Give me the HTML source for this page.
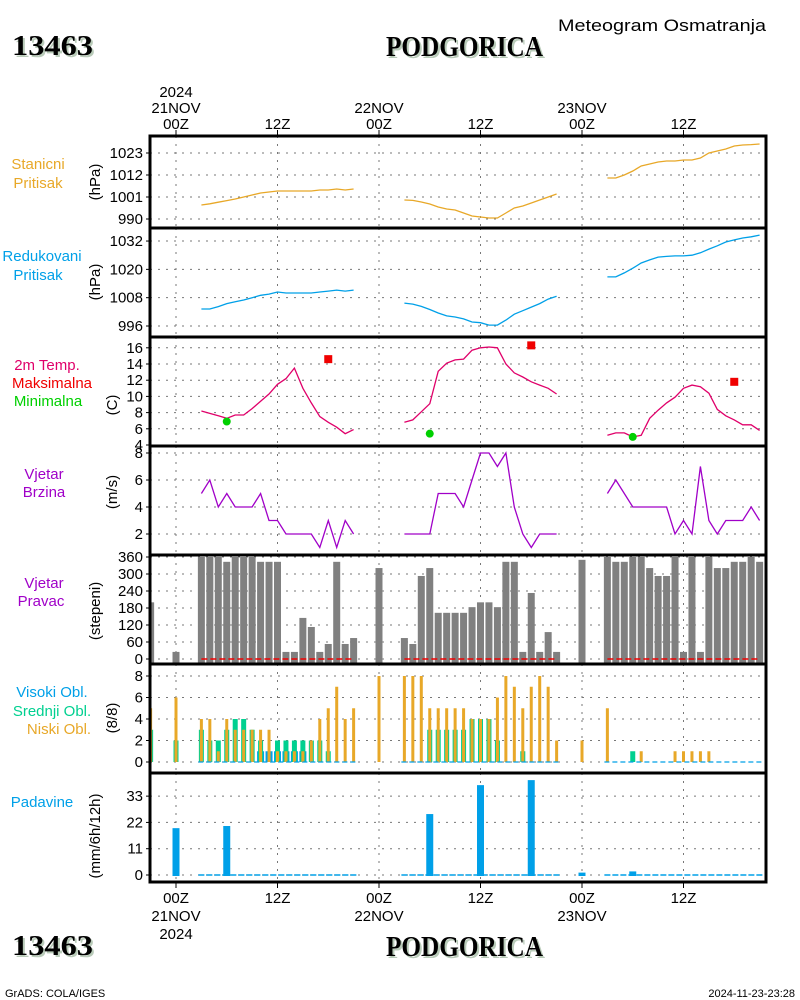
<!DOCTYPE html>
<html><head><meta charset="utf-8"><style>
body{margin:0;background:#fff;}
svg{display:block;font-family:"Liberation Sans",sans-serif;}
.t{font-size:15px;fill:#000;}
</style></head><body>
<svg id="chart" width="800" height="1000" viewBox="0 0 800 1000" xmlns="http://www.w3.org/2000/svg">
<rect x="0" y="0" width="800" height="1000" fill="#fff"/>
<g id="header">
<text x="14" y="57" font-family="Liberation Serif" font-weight="bold" font-size="28" fill="#b9cbb9" textLength="81" lengthAdjust="spacingAndGlyphs">13463</text>
<text x="12" y="55" font-family="Liberation Serif" font-weight="bold" font-size="28" fill="#000" textLength="81" lengthAdjust="spacingAndGlyphs">13463</text>
<text x="388" y="58" font-family="Liberation Serif" font-weight="bold" font-size="29" fill="#b9cbb9" textLength="157" lengthAdjust="spacingAndGlyphs">PODGORICA</text>
<text x="386" y="56" font-family="Liberation Serif" font-weight="bold" font-size="29" fill="#000" textLength="157" lengthAdjust="spacingAndGlyphs">PODGORICA</text>
<text x="558" y="31" font-size="17" fill="#000" textLength="208" lengthAdjust="spacingAndGlyphs">Meteogram Osmatranja</text>
</g>
<g id="footer">
<text x="14" y="957" font-family="Liberation Serif" font-weight="bold" font-size="28" fill="#b9cbb9" textLength="81" lengthAdjust="spacingAndGlyphs">13463</text>
<text x="12" y="955" font-family="Liberation Serif" font-weight="bold" font-size="28" fill="#000" textLength="81" lengthAdjust="spacingAndGlyphs">13463</text>
<text x="388" y="958" font-family="Liberation Serif" font-weight="bold" font-size="29" fill="#b9cbb9" textLength="157" lengthAdjust="spacingAndGlyphs">PODGORICA</text>
<text x="386" y="956" font-family="Liberation Serif" font-weight="bold" font-size="29" fill="#000" textLength="157" lengthAdjust="spacingAndGlyphs">PODGORICA</text>
<text x="5" y="997" font-size="11" fill="#000">GrADS: COLA/IGES</text>
<text x="795" y="997" font-size="11" fill="#000" text-anchor="end">2024-11-23-23:28</text>
</g>
<g id="labels" font-size="15">
<text x="38" y="169" text-anchor="middle" fill="#e8a828">Stanicni</text>
<text x="38" y="188" text-anchor="middle" fill="#e8a828">Pritisak</text>
<text x="42" y="261" text-anchor="middle" fill="#00a0e8">Redukovani</text>
<text x="38" y="280" text-anchor="middle" fill="#00a0e8">Pritisak</text>
<text x="47" y="370" text-anchor="middle" fill="#e0006a">2m Temp.</text>
<text x="52" y="388" text-anchor="middle" fill="#f00000">Maksimalna</text>
<text x="48" y="406" text-anchor="middle" fill="#00d000">Minimalna</text>
<text x="44" y="479" text-anchor="middle" fill="#a000c8">Vjetar</text>
<text x="44" y="497" text-anchor="middle" fill="#a000c8">Brzina</text>
<text x="44" y="588" text-anchor="middle" fill="#a000c8">Vjetar</text>
<text x="41" y="606" text-anchor="middle" fill="#a000c8">Pravac</text>
<text x="52" y="697" text-anchor="middle" fill="#00a0e8">Visoki Obl.</text>
<text x="52" y="716" text-anchor="middle" fill="#00d090">Srednji Obl.</text>
<text x="59" y="734" text-anchor="middle" fill="#e8a828">Niski Obl.</text>
<text x="42" y="807" text-anchor="middle" fill="#00a0e8">Padavine</text>
<text transform="translate(100,182) rotate(-90)" text-anchor="middle">(hPa)</text>
<text transform="translate(100,282) rotate(-90)" text-anchor="middle">(hPa)</text>
<text transform="translate(117,405) rotate(-90)" text-anchor="middle">(C)</text>
<text transform="translate(117,492) rotate(-90)" text-anchor="middle">(m/s)</text>
<text transform="translate(100,611) rotate(-90)" text-anchor="middle">(stepeni)</text>
<text transform="translate(117,718) rotate(-90)" text-anchor="middle">(8/8)</text>
<text transform="translate(100,836) rotate(-90)" text-anchor="middle">(mm/6h/12h)</text>
</g>
<g id="grid"></g>
<g id="marks"></g>
<g id="frames"></g>
<g id="ticks"></g>
</svg>
<script>
// ---- data ----
const seg1Hours=[3,4,5,6,7,8,9,10,11,12,13,14,15,16,17,18,19,20,21];
const seg2Hours=[27,28,29,30,31,32,33,34,35,36,37,38,39,40,41,42,43,44,45];
const seg3Hours=[51,52,53,54,55,56,57,58,59,60,61,62,63,64,65,66,67,68,69];
const stnP1=[997,997.6,998.4,999.2,1000,1001,1002,1003,1003.5,1004,1004,1004,1004,1004,1004.5,1004.5,1005,1004.5,1005];
const stnP2=[999.5,999.3,998.5,997.5,996,995,994.5,993,991.5,991,990.5,990.5,993,995.5,996.5,998,999.5,1001,1002.5];
const stnP3=[1010.5,1010.5,1012,1014,1016.5,1017.5,1018.5,1019,1019,1019.5,1019.5,1020.5,1023,1024,1025,1026.5,1027,1027.2,1027.5];
const redP1=[1003.2,1003.2,1004.2,1005.5,1006.3,1007,1008,1009,1009.5,1010.4,1010,1010,1010,1010,1010.4,1010.8,1011.2,1010.8,1011.2];
const redP2=[1005.7,1005.3,1004.3,1003,1001.5,1000.3,999.8,999,997.7,997.4,996.4,996.4,998.5,1001,1002.5,1004,1005.5,1007.4,1008.6];
const redP3=[1016.8,1016.8,1018.5,1020.5,1022.7,1024,1025.2,1025.5,1025.7,1025.7,1026,1027,1028.6,1030,1031.6,1032.5,1033.3,1033.8,1034.5];
const temp1=[8.2,7.9,7.6,7.3,7.7,7.7,8.5,9.4,10.3,11.5,12.2,13.5,11,9.2,7.5,6.8,6.2,5.4,5.9];
const temp2=[6.8,7.1,8.1,9.1,13.1,14.1,14.5,14.6,15.7,16,16.1,16,14,12.9,12.4,11.8,11.4,11,10.3];
const temp3=[5.2,5.5,5.5,5.0,5.2,7.3,8.3,9.2,9.9,11,11.4,11.2,10.4,8.4,7.6,7.1,6.5,6.5,5.8];
const tmaxHours=[18,42,66];
const tmaxVals=[14.6,16.3,11.8];
const tminHours=[6,30,54];
const tminVals=[6.9,5.4,5.0];
const wspd1=[5,6,4,5,4,4,4,5,3,3,2,2,2,2,1,3,1,3,2];
const wspd2=[2,2,2,2,5,5,5,4,6,8,8,7,8,4,2,1,2,2,2];
const wspd3=[5,6,5,4,4,4,4,4,2,3,2,7,3,2,3,3,3,4,3];
const dirHours=[-3,0,3,4,5,6,7,8,9,10,11,12,13,14,15,16,17,18,19,20,21,24,27,28,29,30,31,32,33,34,35,36,37,38,39,40,41,42,43,44,45,48,51,52,53,54,55,56,57,58,59,60,61,62,63,64,65,66,67,68,69];
const dirVals=[200,25,360,360,360,343,360,360,360,343,343,343,25,25,145,113,25,53,343,53,74,321,74,53,293,321,163,163,163,163,183,200,200,183,343,343,25,233,25,95,25,350,360,343,343,360,360,321,293,293,360,25,360,25,360,321,321,343,343,360,343];
const cloudHours=[-3,0,3,4,5,6,7,8,9,10,11,12,13,14,15,16,17,18,19,20,21,24,27,28,29,30,31,32,33,34,35,36,37,38,39,40,41,42,43,44,45,48,51,52,53,54,55,56,57,58,59,60,61,62,63,64,65,66,67,68,69];
const lowCloud=[5,6,4,4,1,4,3,3,3,3,3,1,1,1,1,2,4,5,7,4,5,8,8,8,8,5,5,5,5,5,4,4,4,6,8,7,5,7,8,7,2,2,5,0,0,0,1,0,0,0,1,1,1,1,1,0,0,0,0,0,0];
const midCloud=[3,2,3,2,2,3,4,4,3,2,0,2,2,2,2,2,2,1,0,0,0,0,0,0,0,3,3,3,3,3,4,4,4,2,0,0,1,0,0,0,0,0,0,0,0,1,0,0,0,0,0,0,0,0,0,0,0,0,0,0,0];
const highCloud=[0,0,0,0,0,0,0,0,0,1,1,1,1,1,1,0,0,0,0,0,0,0,0,0,0,0,0,0,0,0,0,0,0,0,0,0,0,0,0,0,0,0,0,0,0,0,0,0,0,0,0,0,0,0,0,0,0,0,0,0,0];
const precipHours=[0,6,30,36,42,48,54];
const precipVals=[19.6,20.5,25.5,37.6,39.7,1,1.5];
const stnTicks=[990,1001,1012,1023];
const redTicks=[996,1008,1020,1032];
const tempTicks=[4,6,8,10,12,14,16];
const wspdTicks=[2,4,6,8];
const dirTicks=[0,60,120,180,240,300,360];
const cloudTicks=[0,2,4,6,8];
const precipTicks=[0,11,22,33];
const timeHours=[0,12,24,36,48,60];
const timeLabels=["00Z","12Z","00Z","12Z","00Z","12Z"];
const dateLabels=["21NOV","","22NOV","","23NOV",""];

// ---- axes ----
const NS='http://www.w3.org/2000/svg';
const X0=150,X1=766;
function xh(h){return 176+h*101.5/12;}
const panels=[
 {name:'stn-pressure',top:136,bot:228,y:v=>219-2*(v-990),ticks:stnTicks},
 {name:'red-pressure',top:228,bot:337,y:v=>326-2.36*(v-996),ticks:redTicks},
 {name:'temperature',top:337,bot:446,y:v=>445-8.1*(v-4),ticks:tempTicks},
 {name:'wind-speed',top:446,bot:555,y:v=>561-13.5*v,ticks:wspdTicks},
 {name:'wind-direction',top:555,bot:664,y:v=>659-v*17/60,ticks:dirTicks},
 {name:'clouds',top:664,bot:773,y:v=>762-10.75*v,ticks:cloudTicks},
 {name:'precipitation',top:773,bot:882,y:v=>875-2.39*v,ticks:precipTicks}
];
function mk(tag,attrs,parent){const e=document.createElementNS(NS,tag);for(const k in attrs)e.setAttribute(k,attrs[k]);parent.appendChild(e);return e;}
const grid=document.getElementById('grid'),marks=document.getElementById('marks'),frames=document.getElementById('frames'),ticksG=document.getElementById('ticks');

panels.forEach(p=>{
  p.ticks.forEach(t=>{
    const yy=p.y(t);
    const gl=mk('line',{x1:X0,x2:X1,y1:yy,y2:yy,stroke:'#777','stroke-dasharray':'2,6','stroke-width':1},grid);
    
    
    const tk=mk('line',{x1:X0-4,x2:X0,y1:yy,y2:yy,stroke:'#000','stroke-width':1},ticksG);
    
    
    const tl=mk('text',{x:X0-7,y:yy+5,'text-anchor':'end','font-size':15,fill:'#000'},ticksG);
    tl.textContent=t;
    
    
  });
  timeHours.forEach(h=>{
    const vl=mk('line',{x1:xh(h),x2:xh(h),y1:p.top,y2:p.bot,stroke:'#777','stroke-dasharray':'2,6','stroke-width':1},grid);
    
    
  });
  const fr=mk('rect',{x:X0,y:p.top,width:X1-X0,height:p.bot-p.top,fill:'none',stroke:'#000','stroke-width':3},frames);
  
  
});
timeHours.forEach((h,i)=>{
  const t1=mk('line',{x1:xh(h),x2:xh(h),y1:130,y2:136,stroke:'#000'},ticksG);
  
  
  const t2=mk('line',{x1:xh(h),x2:xh(h),y1:882,y2:888,stroke:'#000'},ticksG);
  
  
  const a=mk('text',{x:xh(h),y:129,'text-anchor':'middle','font-size':15},ticksG);a.textContent=timeLabels[i];
  
  
  const b=mk('text',{x:xh(h),y:903,'text-anchor':'middle','font-size':15},ticksG);b.textContent=timeLabels[i];
  
  
  if(dateLabels[i]){
    const c=mk('text',{x:xh(h),y:113,'text-anchor':'middle','font-size':15},ticksG);c.textContent=dateLabels[i];
    
    
    const d=mk('text',{x:xh(h),y:921,'text-anchor':'middle','font-size':15},ticksG);d.textContent=dateLabels[i];
    
    
  }
});
const y1=mk('text',{x:xh(0),y:97,'text-anchor':'middle','font-size':15},ticksG);y1.textContent='2024';


const y2=mk('text',{x:xh(0),y:939,'text-anchor':'middle','font-size':15},ticksG);y2.textContent='2024';



// ---- series ----
const segH=[seg1Hours,seg2Hours,seg3Hours];
function line(pi,hours,vals,color,name){
  const p=panels[pi];
  const pts=hours.map((h,i)=>xh(h).toFixed(1)+','+p.y(vals[i]).toFixed(1)).join(' ');
  const l=mk('polyline',{points:pts,fill:'none',stroke:color,'stroke-width':1.3},marks);
  
  
}
[stnP1,stnP2,stnP3].forEach((v,i)=>line(0,segH[i],v,'#e8a828','station-pressure-line'));
[redP1,redP2,redP3].forEach((v,i)=>line(1,segH[i],v,'#00a0e8','reduced-pressure-line'));
[temp1,temp2,temp3].forEach((v,i)=>line(2,segH[i],v,'#e0006a','temperature-line'));
[wspd1,wspd2,wspd3].forEach((v,i)=>line(3,segH[i],v,'#a000c8','wind-speed-line'));
tmaxHours.forEach((h,i)=>{
  const r=mk('rect',{x:xh(h)-4,y:panels[2].y(tmaxVals[i])-4,width:8,height:8,fill:'#f00000'},marks);
  
  
});
tminHours.forEach((h,i)=>{
  const c=mk('circle',{cx:xh(h),cy:panels[2].y(tminVals[i]),r:4,fill:'#00d000'},marks);
  
  
});
// wind direction bars
const pd=panels[4];
dirHours.forEach((h,i)=>{
  const xl=Math.max(X0,xh(h)-3.5), xr=xh(h)+3.5;
  const yt=pd.y(dirVals[i]);
  const b=mk('rect',{x:xl,y:yt,width:xr-xl,height:pd.bot-yt,fill:'#808080'},marks);
  
  
});
segH.forEach(hs=>{
  const z=mk('line',{x1:xh(hs[0]),x2:xh(hs[hs.length-1]),y1:pd.y(0),y2:pd.y(0),stroke:'#f00000','stroke-width':1.5,'stroke-dasharray':'6,3'},marks);
  
  
});
// clouds
const pc=panels[5];
cloudHours.forEach((h,i)=>{
  const cx=xh(h);
  [[highCloud[i],7,'#00a0e8','high-cloud-bar'],[midCloud[i],5,'#00d090','mid-cloud-bar'],[lowCloud[i],3,'#e8a828','low-cloud-bar']].forEach(c=>{
    if(c[0]<=0)return;
    const xl=Math.max(X0,cx-c[1]/2), xr=cx+c[1]/2;
    const yt=pc.y(c[0]);
    const r=mk('rect',{x:xl,y:yt,width:xr-xl,height:pc.y(0)-yt,fill:c[2]},marks);
    
    
  });
});
// precip
const pp=panels[6];
segH.forEach(hs=>{
  const z=mk('line',{x1:xh(hs[0])-3,x2:xh(hs[hs.length-1])+3,y1:pp.y(0),y2:pp.y(0),stroke:'#00a0e8','stroke-width':1.5,'stroke-dasharray':'6,2'},marks);
  
  
  const c=mk('line',{x1:xh(hs[0])-3,x2:xh(hs[hs.length-1])+3,y1:pc.y(0),y2:pc.y(0),stroke:'#00a0e8','stroke-width':1.2,'stroke-dasharray':'5,3'},marks);
  
  
});
precipHours.forEach((h,i)=>{
  const yt=pp.y(precipVals[i]);
  const r=mk('rect',{x:xh(h)-3.5,y:yt,width:7,height:pp.y(0)-yt+1,fill:'#00a0e8'},marks);
  
  
});
</script>
</body></html>
